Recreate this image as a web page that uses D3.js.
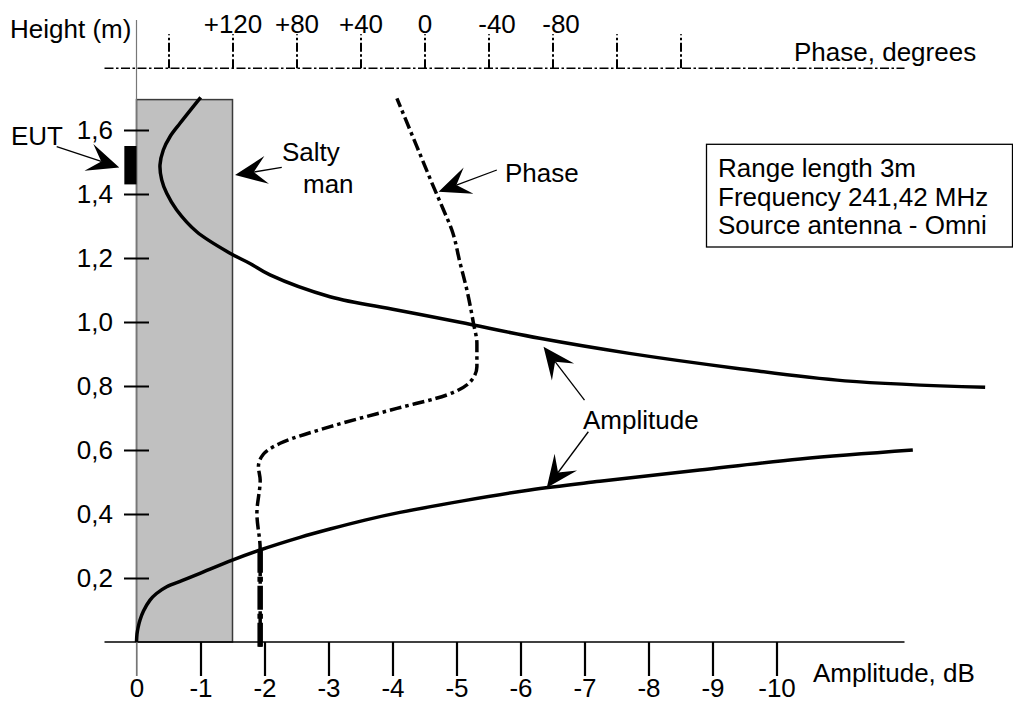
<!DOCTYPE html>
<html>
<head>
<meta charset="utf-8">
<script src="https://cdn.jsdelivr.net/npm/d3@7"></script>
<style>
  body { margin: 0; background: #fff; }
  text { font-family: "Liberation Sans", Arial, sans-serif; font-size: 26px; fill: #000; }
</style>
</head>
<body>
<div id="chart"></div>
<script>
// ---- data ----
var ampTicks = [0, -1, -2, -3, -4, -5, -6, -7, -8, -9, -10];
var heightTicks = [0.2, 0.4, 0.6, 0.8, 1.0, 1.2, 1.4, 1.6];
var phaseTicks = [160, 120, 80, 40, 0, -40, -80, -120, -160];
var phaseLabels = ["", "+120", "+80", "+40", "0", "-40", "-80", "", ""];

// upper amplitude curve (dB, m)
var upperAmp = [-1.003, -0.68, -0.523, -0.419, -0.367, -0.394, -0.472, -0.628, -0.941, -1.461, -1.773, -2.086, -3.023, -4.066, -5.055, -6.30, -7.70, -9.39, -11.07, -13.26];
var upperH   = [1.702, 1.621, 1.579, 1.5375, 1.491, 1.444, 1.402, 1.35, 1.282, 1.215, 1.183, 1.147, 1.079, 1.0375, 0.999, 0.949, 0.902, 0.855, 0.816, 0.796];

// lower amplitude curve (dB, m)
var lowerAmp = [0, -0.0078, -0.0234, -0.0547, -0.109, -0.211, -0.3125, -0.472, -0.719, -0.992, -1.497, -1.93, -2.555, -3.023, -3.57, -4.117, -5.10, -6.148, -7.24, -8.80, -10.37, -12.13];
var lowerH   = [0, 0.025, 0.0438, 0.0688, 0.0969, 0.131, 0.1516, 0.1728, 0.1925, 0.2147, 0.256, 0.2875, 0.327, 0.353, 0.381, 0.405, 0.441, 0.475, 0.502, 0.5375, 0.572, 0.60];

// phase curve (degrees, m)
var phaseDeg = [102.7, 102.7, 104.75, 102.7, 103.8, 100.6, 90.2, 58.9, 17.25, -14, -28.6, -32.75, -32.75, -30.6, -26.5, -22.3, -17.1, -11.9, -5.6, 4.75, 17.25];
var phaseH   = [-0.015, 0.29, 0.402, 0.506, 0.548, 0.5875, 0.621, 0.673, 0.73, 0.772, 0.813, 0.86, 0.933, 0.996, 1.1, 1.183, 1.2875, 1.35, 1.423, 1.548, 1.699];

// salty man and EUT blocks (dB, m)
var manAmp = [0, -1.5], manH = [0, 1.695];
var eutAmp = [0.19, 0], eutH = [1.43, 1.55];

var infoLines = ["Range length 3m", "Frequency 241,42 MHz", "Source antenna - Omni"];

var svgWidth = 1013;
var svgHeight = 702;

var svg = d3.select("#chart")
  .append("svg")
  .attr("width", svgWidth)
  .attr("height", svgHeight);

// scales: 64px per dB, 320px per metre
var x = d3.scaleLinear().domain([0, -1]).range([136.5, 200.5]);
var y = d3.scaleLinear().domain([0, 1]).range([642, 322]);
// phase axis shares the grid: 40 degrees per dB step, 0 deg at -4.5 dB
var xPhase = d3.scaleLinear().domain([0, -40]).range([x(-4.5), x(-5.5)]);

// salty man
svg.append("rect")
  .attr("x", x(manAmp[0]))
  .attr("y", y(manH[1]))
  .attr("width", x(manAmp[1]) - x(manAmp[0]))
  .attr("height", y(manH[0]) - y(manH[1]))
  .attr("fill", "#c0c0c0")
  .attr("stroke", "#3a3a3a")
  .attr("stroke-width", 1.5);

// vertical height axis (thin grey)
svg.append("line")
  .attr("x1", x(0)).attr("x2", x(0))
  .attr("y1", y(1.944)).attr("y2", y(-0.106))
  .attr("stroke", "#777").attr("stroke-width", 1.2);

// bottom amplitude axis
svg.append("line")
  .attr("x1", x(0.5)).attr("x2", x(-12))
  .attr("y1", y(0)).attr("y2", y(0))
  .attr("stroke", "#000").attr("stroke-width", 1.5);

var bottomAxis = d3.axisBottom(x)
  .tickValues(ampTicks)
  .tickSize(34)
  .tickPadding(6)
  .tickFormat(d => String(d));

var gx = svg.append("g")
  .attr("transform", `translate(0, ${y(0)})`)
  .call(bottomAxis);
gx.select(".domain").remove();
gx.selectAll(".tick line")
  .attr("stroke", d => d === 0 ? "#777" : "#000")
  .attr("stroke-width", d => d === 0 ? 1.2 : 2.2);
gx.selectAll(".tick text")
  .attr("y", 55).attr("dy", 0)
  .style("font-size", "26px")
  .style("font-family", "'Liberation Sans', Arial, sans-serif");

svg.append("text")
  .attr("x", 813)
  .attr("y", 682)
  .text("Amplitude, dB");

// left height axis
var leftAxis = d3.axisLeft(y)
  .tickValues(heightTicks)
  .tickSize(12.5)
  .tickPadding(11)
  .tickFormat(d => d3.format(".1f")(d).replace(".", ","));

var gy = svg.append("g")
  .attr("transform", `translate(${x(0)}, 0)`)
  .call(leftAxis);
gy.select(".domain").remove();
gy.selectAll(".tick line")
  .attr("x1", 12.5)
  .attr("stroke", "#000").attr("stroke-width", 2);
gy.selectAll(".tick text")
  .attr("dy", "0.34em")
  .style("font-size", "26px")
  .style("font-family", "'Liberation Sans', Arial, sans-serif");

svg.append("text").attr("x", 10).attr("y", 38).text("Height (m)");

// top phase axis (dash-dot)
var topY = 68.3;
svg.append("line")
  .attr("x1", x(0.5)).attr("x2", x(-12))
  .attr("y1", topY).attr("y2", topY)
  .attr("stroke", "#000").attr("stroke-width", 1.6)
  .attr("stroke-dasharray", "9,2.5,2.5,2.5");

var topAxis = d3.axisTop(xPhase)
  .tickValues(phaseTicks)
  .tickSize(34)
  .tickPadding(1)
  .tickFormat((d, i) => phaseLabels[i]);

var gt = svg.append("g")
  .attr("transform", `translate(0, ${topY})`)
  .call(topAxis);
gt.select(".domain").remove();
gt.selectAll(".tick line")
  .attr("stroke", "#000").attr("stroke-width", 2)
  .attr("stroke-dasharray", "9,2.5,2.5,2.5");
gt.selectAll(".tick text")
  .attr("dx", d => d < 0 ? 8 : 0)
  .style("font-size", "26px")
  .style("font-family", "'Liberation Sans', Arial, sans-serif");

svg.append("text").attr("x", 794).attr("y", 61).text("Phase, degrees");

// curves
var ampLine = d3.line()
  .x(d => x(d[0]))
  .y(d => y(d[1]))
  .curve(d3.curveCatmullRom.alpha(0.5));

var phaseLine = d3.line()
  .x(d => xPhase(d[0]))
  .y(d => y(d[1]))
  .curve(d3.curveMonotoneY);

var upperData = upperAmp.map((a, i) => [a, upperH[i]]);
var lowerData = lowerAmp.map((a, i) => [a, lowerH[i]]);
var phaseData = phaseDeg.map((p, i) => [p, phaseH[i]]);

svg.append("path")
  .datum(upperData)
  .attr("d", ampLine)
  .attr("fill", "none").attr("stroke", "#000").attr("stroke-width", 3.5);

svg.append("path")
  .datum(lowerData)
  .attr("d", ampLine)
  .attr("fill", "none").attr("stroke", "#000").attr("stroke-width", 3.5);

svg.append("path")
  .datum(phaseData)
  .attr("d", phaseLine)
  .attr("fill", "none").attr("stroke", "#000").attr("stroke-width", 3.5)
  .attr("stroke-dasharray", "12,4,3.5,4");

// heavier bottom stretch of the phase trace
svg.append("path")
  .datum(phaseData.filter(d => d[1] <= 0.29))
  .attr("d", phaseLine)
  .attr("fill", "none").attr("stroke", "#000").attr("stroke-width", 5.5)
  .attr("stroke-dasharray", "24,4,5,4");

// EUT block
svg.append("rect")
  .attr("x", x(eutAmp[0]))
  .attr("y", y(eutH[1]))
  .attr("width", x(eutAmp[1]) - x(eutAmp[0]))
  .attr("height", y(eutH[0]) - y(eutH[1]))
  .attr("fill", "#000");

// info box
svg.append("rect")
  .attr("x", 706.5).attr("y", 144.3)
  .attr("width", 306).attr("height", 102.7)
  .attr("fill", "#fff").attr("stroke", "#000").attr("stroke-width", 1.3);

svg.selectAll(".info")
  .data(infoLines)
  .enter()
  .append("text")
  .attr("class", "info")
  .attr("x", 718)
  .attr("y", (d, i) => 177.3 + i * 28.4)
  .text(d => d);

// annotations: label arrows, given in (dB, m)
var arrows = [
  { from: [1.247, 1.548], tip: [0.269, 1.483] },   // EUT
  { from: [-2.27, 1.483], tip: [-1.54, 1.459] },   // salty man
  { from: [-5.63, 1.475], tip: [-4.72, 1.407] },   // phase
  { from: [-7.0, 0.756], tip: [-6.36, 0.923] },    // amplitude, upper
  { from: [-7.06, 0.657], tip: [-6.41, 0.482] }    // amplitude, lower
];

var headLen = 32, headHalf = 14, notch = 19;
arrows.forEach(function (a) {
  var fx = x(a.from[0]), fy = y(a.from[1]);
  var tx = x(a.tip[0]), ty = y(a.tip[1]);
  var len = Math.hypot(tx - fx, ty - fy);
  var ux = (tx - fx) / len, uy = (ty - fy) / len;
  var nx = -uy, ny = ux;
  var bx = tx - ux * headLen, by = ty - uy * headLen;
  var mx = tx - ux * notch, my = ty - uy * notch;
  svg.append("line")
    .attr("x1", fx).attr("y1", fy)
    .attr("x2", mx).attr("y2", my)
    .attr("stroke", "#000").attr("stroke-width", 1.3);
  var pts = [
    [tx, ty],
    [bx + nx * headHalf, by + ny * headHalf],
    [mx, my],
    [bx - nx * headHalf, by - ny * headHalf]
  ];
  svg.append("path")
    .attr("d", "M" + pts.map(p => p.join(",")).join("L") + "Z")
    .attr("fill", "#000");
});

svg.append("text").attr("x", 11).attr("y", 145).text("EUT");
svg.append("text").attr("x", 282).attr("y", 161).text("Salty");
svg.append("text").attr("x", 303).attr("y", 193).text("man");
svg.append("text").attr("x", 505).attr("y", 182).text("Phase");
svg.append("text").attr("x", 583).attr("y", 429).text("Amplitude");
</script>
</body>
</html>
